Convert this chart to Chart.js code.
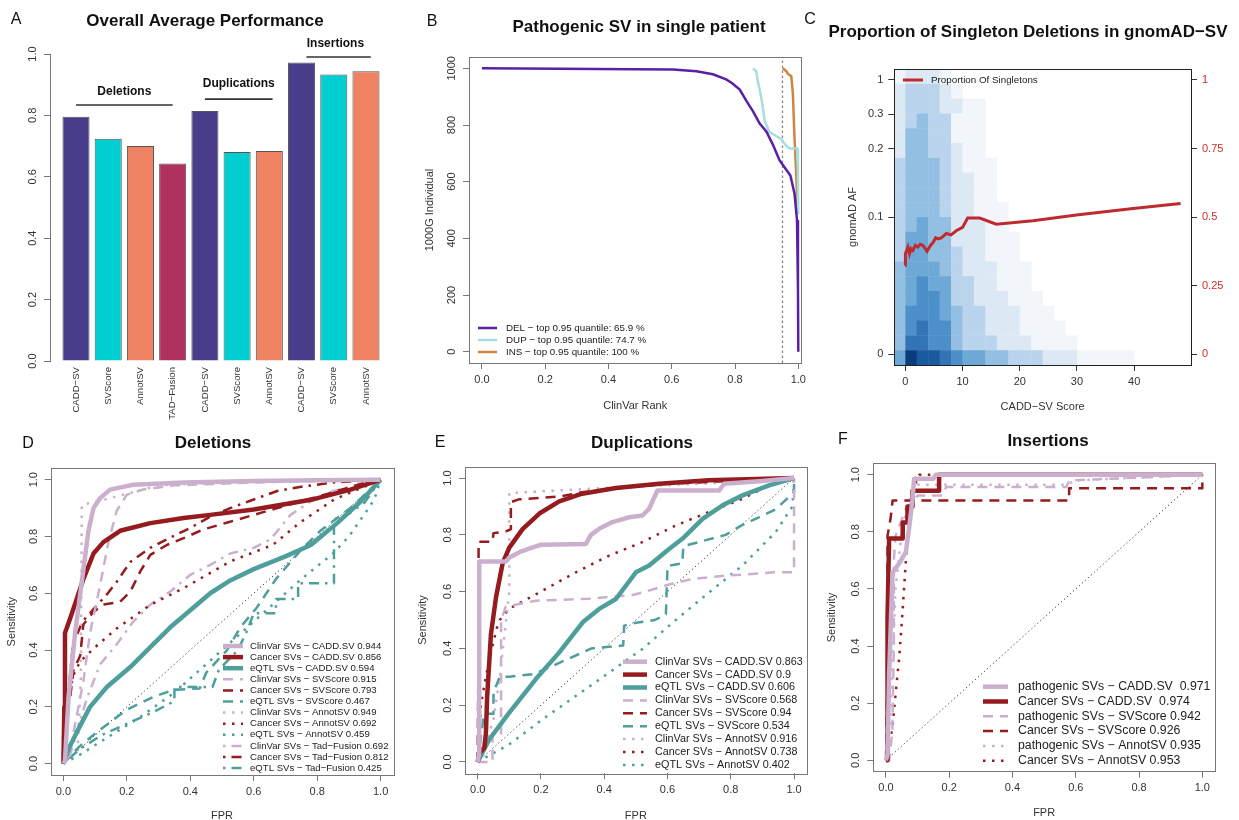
<!DOCTYPE html>
<html>
<head>
<meta charset="utf-8">
<script src="https://cdn.jsdelivr.net/npm/chart.js@4.4.1/dist/chart.umd.min.js"></script>
<style>
  html, body { margin: 0; padding: 0; background: #fff; width: 1239px; height: 820px; overflow: hidden; }
  canvas { position: absolute; }
</style>
</head>
<body>
<canvas id="perf" width="410" height="420" style="left:0;top:0"></canvas>
<canvas id="patient" width="395" height="420" style="left:415px;top:0"></canvas>
<canvas id="singleton" width="444" height="420" style="left:795px;top:0"></canvas>
<canvas id="rocDel" width="410" height="410" style="left:0;top:420px"></canvas>
<canvas id="rocDup" width="410" height="410" style="left:410px;top:420px"></canvas>
<canvas id="rocIns" width="419" height="410" style="left:820px;top:420px"></canvas>
<script>
// ---- A: overall average performance ----
const perfTools = ['CADD−SV', 'SVScore', 'AnnotSV', 'TAD−Fusion', 'CADD−SV', 'SVScore', 'AnnotSV', 'CADD−SV', 'SVScore', 'AnnotSV'];
const perfSlots = [1, 2, 3, 4, 5, 6, 7, 8, 9, 10];
const perfValues = [0.796, 0.724, 0.700, 0.643, 0.814, 0.681, 0.684, 0.972, 0.933, 0.944];
const perfColors = ['#483D8B', '#00CED1', '#EE8262', '#B03060', '#483D8B', '#00CED1', '#EE8262', '#483D8B', '#00CED1', '#EE8262'];
const svGroups = ['Deletions', 'Duplications', 'Insertions'];

// ---- B: rank of pathogenic SVs within a single 1000G individual ----
const delRank = [[0, 1000], [0.604, 996], [0.678, 990], [0.73, 979], [0.772, 961], [0.79, 948], [0.815, 925], [0.836, 885], [0.857, 848], [0.878, 805], [0.899, 777], [0.92, 730], [0.941, 675], [0.957, 650], [0.975, 622], [0.988, 558], [0.996, 465], [0.999, 227], [1, 0]];
const dupRank = [[0.857, 1000], [0.867, 990], [0.872, 955], [0.883, 897], [0.894, 814], [0.909, 775], [0.93, 761], [0.946, 750], [0.962, 726], [0.973, 717], [0.996, 717], [0.999, 638], [1, 485]];
const insRank = [[0.951, 1000], [0.962, 990], [0.967, 981], [0.978, 972], [0.983, 908], [0.988, 756], [0.994, 615], [0.997, 520]];
const rankLabels = ['DEL − top 0.95 quantile: 65.9 %', 'DUP − top 0.95 quantile: 74.7 %', 'INS − top 0.95 quantile: 100 %'];
const rankCutoff = 0.95;

// ---- C: singleton proportion over CADD-SV score ----
const singletonCurve = [[0, 0.323], [0.02, 0.366], [0.45, 0.39], [0.73, 0.366], [1.0, 0.384], [1.3, 0.378], [1.75, 0.396], [2.2, 0.39], [2.6, 0.4], [3.1, 0.396], [3.8, 0.375], [4.4, 0.396], [4.9, 0.408], [5.3, 0.424], [5.7, 0.42], [6.3, 0.424], [7.2, 0.44], [8.0, 0.435], [8.9, 0.45], [10.0, 0.462], [10.9, 0.496], [13.0, 0.496], [15.9, 0.474], [22.3, 0.486], [29.9, 0.507], [39.8, 0.531], [48.1, 0.549]];
const afTickPos = [0, 0.5, 0.75, 0.875, 1];
const afTickText = ['0', '0.1', '0.2', '0.3', '1'];
// density bins: x edges (score), y edges (top to bottom), levels 0-9 per cell (missing = 0)
const heatX = [-2, 0, 2, 4, 6, 8, 10, 12, 14, 16, 18, 20, 22, 24, 26, 28, 30, 32, 34, 36, 38, 40, 42, 44, 46, 48, 50];
const heatY = [1.04, 0.986, 0.932, 0.878, 0.824, 0.77, 0.716, 0.662, 0.608, 0.554, 0.5, 0.446, 0.392, 0.338, 0.284, 0.23, 0.176, 0.122, 0.068, 0.014, -0.04];
const heatRows = [
  '12221',
  '233321',
  '23332211',
  '23433111',
  '24433111',
  '24433211',
  '344432111',
  '344432211',
  '344432211',
  '3444322111',
  '3454422211',
  '35544222111',
  '35544322111',
  '455543222111',
  '456553322111',
  '4566533222111',
  '46665433222111',
  '467664332221111',
  '4776643332221111',
  '598876554433322211111'
];
const blues = ['#FFFFFF', '#F2F6FB', '#DCE9F5', '#B9D4EC', '#93BFE2', '#6EA8D6', '#4D8FC8', '#3274B6', '#1A5A9E', '#0B3C7D'];

// ---- D: deletions ROC ----
const delClinvarCadd = [[0, 0], [0.005, 0.01], [0.016, 0.23], [0.037, 0.46], [0.058, 0.64], [0.079, 0.82], [0.095, 0.9], [0.116, 0.935], [0.147, 0.965], [0.22, 0.982], [0.38, 0.99], [0.6, 0.995], [0.8, 0.998], [1, 1]];
const delCancerCadd = [[0, 0], [0.003, 0.2], [0.005, 0.46], [0.021, 0.51], [0.042, 0.58], [0.063, 0.65], [0.095, 0.74], [0.126, 0.78], [0.179, 0.82], [0.274, 0.847], [0.379, 0.865], [0.463, 0.876], [0.6, 0.895], [0.78, 0.929], [0.905, 0.965], [1, 1]];
const delEqtlCadd = [[0, 0], [0.02, 0.06], [0.042, 0.11], [0.084, 0.2], [0.137, 0.27], [0.211, 0.34], [0.274, 0.41], [0.337, 0.48], [0.4, 0.54], [0.463, 0.6], [0.526, 0.645], [0.6, 0.685], [0.7, 0.73], [0.78, 0.77], [0.863, 0.847], [0.937, 0.923], [1, 1]];
const delClinvarSvscore = [[0, 0], [0.02, 0.03], [0.032, 0.11], [0.063, 0.29], [0.084, 0.46], [0.116, 0.63], [0.142, 0.78], [0.168, 0.89], [0.2, 0.947], [0.25, 0.965], [0.35, 0.98], [0.6, 0.99], [1, 1]];
const delCancerSvscore = [[0, 0], [0.005, 0.05], [0.015, 0.2], [0.021, 0.23], [0.032, 0.33], [0.053, 0.38], [0.063, 0.49], [0.095, 0.535], [0.126, 0.56], [0.179, 0.57], [0.211, 0.606], [0.242, 0.676], [0.274, 0.735], [0.326, 0.77], [0.379, 0.794], [0.442, 0.825], [0.52, 0.85], [0.674, 0.9], [0.832, 0.95], [0.937, 0.985], [1, 1]];
const delEqtlSvscore = [[0, 0], [0.05, 0.06], [0.116, 0.12], [0.2, 0.19], [0.284, 0.235], [0.347, 0.26], [0.43, 0.265], [0.45, 0.32], [0.516, 0.4], [0.558, 0.48], [0.61, 0.55], [0.67, 0.65], [0.747, 0.75], [0.81, 0.82], [0.905, 0.9], [1, 1]];
const delClinvarAnnot = [[0, 0], [0.01, 0.02], [0.045, 0.05], [0.055, 0.3], [0.058, 0.91], [0.09, 0.92], [0.13, 0.93], [0.2, 0.95], [0.3, 0.98], [0.5, 0.99], [1, 1]];
const delCancerAnnot = [[0, 0], [0.005, 0.1], [0.01, 0.2], [0.02, 0.26], [0.035, 0.32], [0.053, 0.36], [0.1, 0.41], [0.168, 0.476], [0.274, 0.559], [0.379, 0.618], [0.526, 0.712], [0.66, 0.77], [0.747, 0.85], [0.853, 0.93], [1, 1]];
const delEqtlAnnot = [[0, 0], [0.05, 0.03], [0.15, 0.1], [0.25, 0.17], [0.35, 0.25], [0.45, 0.35], [0.55, 0.45], [0.65, 0.55], [0.75, 0.65], [0.85, 0.74], [0.9, 0.8], [0.95, 0.88], [0.98, 0.93], [1, 1]];
const delClinvarTad = [[0, 0], [0.021, 0.03], [0.042, 0.11], [0.074, 0.23], [0.116, 0.35], [0.168, 0.42], [0.22, 0.5], [0.274, 0.56], [0.337, 0.606], [0.4, 0.665], [0.463, 0.7], [0.526, 0.74], [0.6, 0.76], [0.653, 0.79], [0.716, 0.876], [0.779, 0.923], [0.85, 0.96], [1, 1]];
const delCancerTad = [[0, 0], [0.01, 0.1], [0.02, 0.3], [0.03, 0.42], [0.06, 0.5], [0.1, 0.55], [0.14, 0.6], [0.168, 0.64], [0.211, 0.71], [0.274, 0.76], [0.326, 0.79], [0.4, 0.83], [0.463, 0.87], [0.526, 0.9], [0.6, 0.93], [0.674, 0.96], [0.75, 0.975], [0.85, 0.99], [1, 1]];
const delEqtlTad = [[0, 0], [0.05, 0.05], [0.12, 0.1], [0.2, 0.14], [0.28, 0.18], [0.35, 0.22], [0.35, 0.27], [0.47, 0.27], [0.49, 0.33], [0.55, 0.4], [0.58, 0.47], [0.6, 0.53], [0.67, 0.53], [0.67, 0.58], [0.74, 0.58], [0.74, 0.635], [0.853, 0.635], [0.853, 0.86], [0.9, 0.88], [0.95, 0.92], [1, 1]];
const delLabels = ['ClinVar SVs − CADD.SV 0.944', 'Cancer SVs − CADD.SV 0.856', 'eQTL SVs − CADD.SV 0.594', 'ClinVar SVs − SVScore 0.915', 'Cancer SVs − SVScore 0.793', 'eQTL SVs − SVScore 0.467', 'ClinVar SVs − AnnotSV 0.949', 'Cancer SVs − AnnotSV 0.692', 'eQTL SVs − AnnotSV 0.459', 'ClinVar SVs − Tad−Fusion 0.692', 'Cancer SVs − Tad−Fusion 0.812', 'eQTL SVs − Tad−Fusion 0.425'];

// ---- E: duplications ROC ----
const dupClinvarCadd = [[0, 0], [0.005, 0.03], [0.005, 0.706], [0.089, 0.706], [0.1, 0.72], [0.132, 0.739], [0.174, 0.756], [0.2, 0.765], [0.342, 0.768], [0.358, 0.8], [0.384, 0.821], [0.426, 0.845], [0.479, 0.862], [0.521, 0.868], [0.542, 0.892], [0.568, 0.956], [0.763, 0.956], [0.779, 0.98], [0.9, 0.99], [1, 1]];
const dupCancerCadd = [[0, 0], [0.005, 0.03], [0.021, 0.05], [0.026, 0.1], [0.03, 0.23], [0.042, 0.45], [0.058, 0.58], [0.079, 0.7], [0.1, 0.755], [0.142, 0.82], [0.195, 0.875], [0.258, 0.918], [0.33, 0.945], [0.437, 0.965], [0.574, 0.98], [0.73, 0.992], [1, 1]];
const dupEqtlCadd = [[0, 0], [0.037, 0.08], [0.1, 0.174], [0.184, 0.292], [0.258, 0.386], [0.332, 0.492], [0.384, 0.539], [0.437, 0.574], [0.5, 0.668], [0.542, 0.692], [0.605, 0.75], [0.647, 0.786], [0.711, 0.856], [0.774, 0.904], [0.837, 0.939], [0.921, 0.974], [1, 1]];
const dupClinvarSvscore = [[0, 0], [0.047, 0], [0.047, 0.1], [0.074, 0.1], [0.074, 0.5], [0.089, 0.547], [0.142, 0.559], [0.184, 0.568], [0.35, 0.575], [0.49, 0.588], [0.53, 0.6], [0.605, 0.625], [0.68, 0.645], [0.784, 0.656], [0.942, 0.668], [1, 0.668], [1, 1]];
const dupCancerSvscore = [[0, 0], [0.002, 0.3], [0.003, 0.776], [0.047, 0.776], [0.05, 0.806], [0.089, 0.812], [0.105, 0.82], [0.105, 0.915], [0.13, 0.925], [0.2, 0.93], [0.26, 0.935], [0.33, 0.95], [0.42, 0.962], [0.6, 0.98], [0.8, 0.99], [1, 1]];
const dupEqtlSvscore = [[0, 0], [0.02, 0.17], [0.05, 0.17], [0.05, 0.245], [0.07, 0.3], [0.1, 0.3], [0.18, 0.31], [0.28, 0.36], [0.36, 0.4], [0.46, 0.41], [0.463, 0.48], [0.5, 0.49], [0.56, 0.5], [0.595, 0.52], [0.6, 0.69], [0.647, 0.7], [0.65, 0.76], [0.784, 0.8], [0.837, 0.835], [0.942, 0.89], [1, 0.95], [1, 1]];
const dupClinvarAnnot = [[0, 0], [0.02, 0.05], [0.05, 0.15], [0.07, 0.3], [0.085, 0.45], [0.1, 0.6], [0.1, 0.947], [0.4, 0.965], [0.6, 0.975], [0.9, 0.99], [1, 1]];
const dupCancerAnnot = [[0, 0], [0.005, 0.09], [0.01, 0.2], [0.026, 0.3], [0.045, 0.4], [0.06, 0.47], [0.07, 0.5], [0.1, 0.54], [0.2, 0.6], [0.31, 0.668], [0.416, 0.727], [0.52, 0.774], [0.626, 0.833], [0.73, 0.88], [0.837, 0.927], [0.92, 0.974], [1, 1]];
const dupEqtlAnnot = [[0, 0], [0.1, 0.062], [0.205, 0.15], [0.311, 0.233], [0.416, 0.315], [0.521, 0.398], [0.626, 0.5], [0.732, 0.598], [0.837, 0.692], [0.942, 0.81], [0.995, 0.9], [1, 1]];
const dupLabels = ['ClinVar SVs − CADD.SV 0.863', 'Cancer SVs − CADD.SV 0.9', 'eQTL SVs − CADD.SV 0.606', 'ClinVar SVs − SVScore 0.568', 'Cancer SVs − SVScore 0.94', 'eQTL SVs − SVScore 0.534', 'ClinVar SVs − AnnotSV 0.916', 'Cancer SVs − AnnotSV 0.738', 'eQTL SVs − AnnotSV 0.402'];

// ---- F: insertions ROC ----
const insPathoCadd = [[0, 0], [0.005, 0.02], [0.01, 0.3], [0.016, 0.5], [0.021, 0.657], [0.042, 0.69], [0.063, 0.73], [0.074, 0.82], [0.084, 0.915], [0.089, 0.986], [0.15, 0.986], [0.158, 1], [1, 1]];
const insCancerCadd = [[0, 0], [0.005, 0], [0.005, 0.5], [0.01, 0.777], [0.053, 0.777], [0.053, 0.833], [0.068, 0.833], [0.068, 0.889], [0.084, 0.889], [0.084, 0.944], [0.168, 0.944], [0.168, 1], [1, 1]];
const insPathoSvscore = [[0, 0], [0.01, 0], [0.02, 0.1], [0.025, 0.4], [0.025, 0.7], [0.03, 0.786], [0.063, 0.88], [0.1, 0.927], [0.179, 0.927], [0.19, 0.957], [0.57, 0.957], [0.58, 0.98], [0.8, 0.99], [1, 1]];
const insCancerSvscore = [[0, 0], [0.005, 0.3], [0.005, 0.786], [0.015, 0.85], [0.021, 0.91], [0.579, 0.91], [0.579, 0.953], [1, 0.953], [1, 1]];
const insPathoAnnot = [[0, 0], [0.01, 0.05], [0.02, 0.3], [0.03, 0.6], [0.05, 0.8], [0.07, 0.9], [0.1, 0.965], [0.57, 0.965], [0.6, 0.98], [0.8, 0.99], [1, 1]];
const insCancerAnnot = [[0, 0], [0.01, 0.05], [0.021, 0.12], [0.032, 0.25], [0.042, 0.36], [0.053, 0.53], [0.063, 0.7], [0.074, 0.845], [0.084, 0.94], [0.1, 0.99], [0.105, 1], [1, 1]];
const insLabels = ['pathogenic SVs − CADD.SV  0.971', 'Cancer SVs − CADD.SV  0.974', 'pathogenic SVs − SVScore 0.942', 'Cancer SVs − SVScore 0.926', 'pathogenic SVs − AnnotSV 0.935', 'Cancer SVs − AnnotSV 0.953'];

const rocTicks = [0, 0.2, 0.4, 0.6, 0.8, 1];
const chanceLine = [[0, 0], [1, 1]];

// ---------------------------------------------------------------
const FONT = '"Liberation Sans", Arial, Helvetica, sans-serif';
Chart.defaults.font.family = FONT;
Chart.defaults.font.size = 11;
Chart.defaults.color = '#333';
Chart.defaults.animation = false;
Chart.defaults.responsive = false;
Chart.defaults.plugins.legend.display = false;
Chart.defaults.plugins.tooltip.enabled = false;
Chart.defaults.elements.point.radius = 0;
Chart.defaults.elements.line.tension = 0;

const pts = a => a.map(p => ({x: p[0], y: p[1]}));
const tickAt = vals => s => { s.ticks = vals.map(v => ({value: v})); };

function bottomAxis(min, max, vals, fmt, title, height, titlePad, gridColor) {
  return {
    type: 'linear', min, max,
    afterBuildTicks: tickAt(vals),
    afterFit: s => { s.height = height; },
    border: {display: false},
    grid: {drawOnChartArea: false, tickLength: 6, color: gridColor || '#777'},
    ticks: {callback: fmt, padding: 4, maxRotation: 0, autoSkip: false, color: '#333'},
    title: {display: true, text: title, color: '#333', padding: {top: 0, bottom: titlePad}}
  };
}

// y labels are drawn upright by the rotY plugin, so only tick marks come from here
function leftAxis(min, max, vals, title, width, titlePad) {
  return {
    type: 'linear', min, max,
    afterBuildTicks: tickAt(vals),
    afterFit: s => { s.width = width; },
    border: {display: false},
    grid: {drawOnChartArea: false, tickLength: 6, color: '#777'},
    ticks: {display: false},
    title: {display: !!title, text: title, color: '#333', padding: {top: titlePad, bottom: 0}}
  };
}

const frame = {
  id: 'frame',
  afterDraw(chart, args, o) {
    if (!o.color) return;
    const a = chart.chartArea, ctx = chart.ctx;
    ctx.save();
    ctx.strokeStyle = o.color;
    ctx.lineWidth = 1;
    ctx.strokeRect(Math.round(a.left) + 0.5, Math.round(a.top) + 0.5, Math.round(a.right - a.left), Math.round(a.bottom - a.top));
    ctx.restore();
  }
};

const rotY = {
  id: 'rotY',
  afterDraw(chart, args, o) {
    if (!o.fmt) return;
    const s = chart.scales.y, ctx = chart.ctx, x = s.right - o.gap;
    ctx.save();
    ctx.font = '11px ' + FONT;
    ctx.fillStyle = '#333';
    ctx.textAlign = 'center';
    ctx.textBaseline = 'middle';
    s.ticks.forEach(t => {
      ctx.save();
      ctx.translate(x, s.getPixelForValue(t.value));
      ctx.rotate(-Math.PI / 2);
      ctx.fillText(o.fmt(t.value), 0, 0);
      ctx.restore();
    });
    ctx.restore();
  }
};

const lineLegend = {
  id: 'lineLegend',
  afterDraw(chart, args, o) {
    if (o.x1 === undefined) return;
    const ctx = chart.ctx;
    ctx.save();
    ctx.font = o.size + 'px ' + FONT;
    ctx.textAlign = 'left';
    ctx.textBaseline = 'middle';
    let row = 0;
    chart.data.datasets.forEach(ds => {
      if (!ds.label) return;
      const y = o.y + row * o.dy;
      ctx.strokeStyle = ds.borderColor;
      ctx.lineWidth = ds.borderWidth;
      ctx.setLineDash(ds.borderDash || []);
      ctx.beginPath();
      ctx.moveTo(o.x1, y);
      ctx.lineTo(o.x2, y);
      ctx.stroke();
      ctx.fillStyle = '#222';
      ctx.fillText(ds.label, o.tx, y);
      row++;
    });
    ctx.restore();
  }
};

const panelText = {
  id: 'panelText',
  afterDraw(chart, args, o) {
    if (!o.letter) return;
    const ctx = chart.ctx;
    ctx.save();
    ctx.fillStyle = '#111';
    ctx.textBaseline = 'middle';
    ctx.textAlign = 'center';
    ctx.font = '16px ' + FONT;
    ctx.fillText(o.letter, o.lx, o.ly);
    ctx.font = 'bold 17px ' + FONT;
    ctx.fillText(o.title, o.tx, o.ty);
    ctx.restore();
  }
};

// bracket lines with the SV class above each group of bars
const groupMarks = {
  id: 'groupMarks',
  afterDraw(chart, args, o) {
    if (!o.spans) return;
    const {x, y} = chart.scales, ctx = chart.ctx;
    ctx.save();
    ctx.strokeStyle = '#333';
    ctx.lineWidth = 1.6;
    ctx.fillStyle = '#111';
    ctx.font = 'bold 12px ' + FONT;
    ctx.textAlign = 'center';
    ctx.textBaseline = 'middle';
    o.spans.forEach((sp, i) => {
      const py = y.getPixelForValue(o.lineY[i]);
      ctx.beginPath();
      ctx.moveTo(x.getPixelForValue(sp[0]), py);
      ctx.lineTo(x.getPixelForValue(sp[1]), py);
      ctx.stroke();
      ctx.fillText(svGroups[i], x.getPixelForValue(o.textX[i]), y.getPixelForValue(o.textY[i]));
    });
    ctx.restore();
  }
};

// 2D density of (score, AF) drawn as shaded cells behind the curve
const heatLayer = {
  id: 'heatLayer',
  beforeDatasetsDraw(chart, args, o) {
    if (!o.on) return;
    const {x, y} = chart.scales, a = chart.chartArea, ctx = chart.ctx;
    ctx.save();
    ctx.beginPath();
    ctx.rect(a.left, a.top, a.right - a.left, a.bottom - a.top);
    ctx.clip();
    heatRows.forEach((row, r) => {
      const yt = y.getPixelForValue(heatY[r]), yb = y.getPixelForValue(heatY[r + 1]);
      for (let c = 0; c < row.length; c++) {
        const lvl = +row[c];
        if (!lvl) continue;
        const xl = x.getPixelForValue(heatX[c]), xr = x.getPixelForValue(heatX[c + 1]);
        ctx.fillStyle = blues[lvl];
        ctx.fillRect(xl, yt, xr - xl + 0.4, yb - yt + 0.4);
      }
    });
    ctx.restore();
  }
};

Chart.register(frame, rotY, lineLegend, panelText, groupMarks, heatLayer);

// ---- A ----
new Chart(document.getElementById('perf'), {
  type: 'bar',
  data: {
    datasets: [{
      data: perfSlots.map((s, i) => ({x: s, y: perfValues[i]})),
      backgroundColor: perfColors,
      borderColor: '#555',
      borderWidth: 1,
      categoryPercentage: 1,
      barPercentage: 0.84
    }]
  },
  options: {
    layout: {padding: {left: 30, top: 54, right: 18, bottom: 0}},
    scales: {
      x: {
        type: 'linear', min: 0.193, max: 10.807, offset: false,
        afterBuildTicks: tickAt(perfSlots),
        afterFit: s => { s.height = 59; },
        border: {display: false},
        grid: {display: false, drawTicks: false},
        ticks: {callback: v => perfTools[v - 1], minRotation: 90, maxRotation: 90, autoSkip: false, padding: 6, color: '#333', font: {size: 9.6}}
      },
      y: {
        type: 'linear', min: 0, max: 1,
        afterBuildTicks: tickAt([0, 0.2, 0.4, 0.6, 0.8, 1]),
        afterFit: s => { s.width = 20; },
        border: {display: true, color: '#777'},
        grid: {drawOnChartArea: false, tickLength: 6, color: '#777'},
        ticks: {display: false}
      }
    },
    plugins: {
      rotY: {gap: 17, fmt: v => v.toFixed(1)},
      panelText: {letter: 'A', lx: 16, ly: 20, title: 'Overall Average Performance', tx: 205, ty: 21},
      groupMarks: {spans: [[1, 4], [5, 7.1], [8.15, 10.15]], lineY: [0.834, 0.853, 0.99], textX: [2.5, 6.05, 9.05], textY: [0.876, 0.902, 1.033]}
    }
  }
});

// ---- B ----
new Chart(document.getElementById('patient'), {
  type: 'line',
  data: {
    datasets: [
      {label: rankLabels[0], data: pts(delRank), borderColor: '#5B1FA6', borderWidth: 2.5},
      {label: rankLabels[1], data: pts(dupRank), borderColor: '#A5DEDF', borderWidth: 2.5},
      {label: rankLabels[2], data: pts(insRank), borderColor: '#CF8540', borderWidth: 2.5},
      {data: [{x: rankCutoff, y: -40}, {x: rankCutoff, y: 1040}], borderColor: '#888', borderWidth: 1.3, borderDash: [2.5, 2.5]}
    ]
  },
  options: {
    layout: {padding: {left: 0, top: 57, right: 8, bottom: 0}},
    scales: {
      x: bottomAxis(-0.041, 1.01, [0, 0.2, 0.4, 0.6, 0.8, 1], v => v.toFixed(1), 'ClinVar Rank', 57, 7.7),
      y: leftAxis(-40, 1040, [0, 200, 400, 600, 800, 1000], '1000G Individual', 54, 8.4)
    },
    plugins: {
      frame: {color: '#777'},
      rotY: {gap: 17, fmt: v => String(v)},
      lineLegend: {x1: 63, x2: 82, tx: 91, y: 328, dy: 12, size: 9.8},
      panelText: {letter: 'B', lx: 17, ly: 22, title: 'Pathogenic SV in single patient', tx: 224, ty: 27}
    }
  }
});

// ---- C ----
new Chart(document.getElementById('singleton'), {
  type: 'line',
  data: {
    datasets: [
      {label: 'Proportion Of Singletons', data: pts(singletonCurve), borderColor: '#BE2A2E', borderWidth: 3, yAxisID: 'y2'}
    ]
  },
  options: {
    layout: {padding: {left: 0, top: 69, right: 0, bottom: 0}},
    scales: {
      x: bottomAxis(-1.92, 49.92, [0, 10, 20, 30, 40], v => String(v), 'CADD−SV Score', 55, 6.7, '#333'),
      y: {
        type: 'linear', position: 'left', min: -0.04, max: 1.04,
        afterBuildTicks: tickAt(afTickPos),
        afterFit: s => { s.width = 99.3; },
        border: {display: false},
        grid: {drawOnChartArea: false, tickLength: 6, color: '#333'},
        ticks: {callback: v => afTickText[afTickPos.indexOf(v)], padding: 5, color: '#333'},
        title: {display: true, text: 'gnomAD AF', color: '#333', padding: {top: 51.4, bottom: 0}}
      },
      y2: {
        type: 'linear', position: 'right', min: -0.04, max: 1.04,
        afterBuildTicks: tickAt([0, 0.25, 0.5, 0.75, 1]),
        afterFit: s => { s.width = 48; },
        border: {display: false},
        grid: {drawOnChartArea: false, tickLength: 6, color: '#333'},
        ticks: {callback: v => String(v), padding: 5, color: '#D22B2B'}
      }
    },
    plugins: {
      heatLayer: {on: true},
      frame: {color: '#222'},
      lineLegend: {x1: 108, x2: 128, tx: 136, y: 80, dy: 12, size: 9.8},
      panelText: {letter: 'C', lx: 15, ly: 20, title: 'Proportion of Singleton Deletions in gnomAD−SV', tx: 233, ty: 32}
    }
  }
});

// ---- D, E, F: ROC curves ----
const cohortColor = {ClinVar: '#CBB0CE', pathogenic: '#CBB0CE', Cancer: '#951B1F', eQTL: '#4E9E9C'};
const toolStyle = {
  CADD: {w: 4.5, dash: []},
  SVScore: {w: 2.5, dash: [10, 7]},
  AnnotSV: {w: 2.5, dash: [2.5, 6.5]},
  Tad: {w: 2.5, dash: [2.5, 6, 10, 6]}
};

function rocChart(id, curves, labels, cohorts, tools, lay, legend, text) {
  const datasets = curves.map((c, i) => ({
    label: labels[i],
    data: pts(c),
    borderColor: cohortColor[cohorts[i]],
    borderWidth: toolStyle[tools[i]].w,
    borderDash: toolStyle[tools[i]].dash,
    borderJoinStyle: 'round'
  }));
  datasets.push({data: pts(chanceLine), borderColor: '#333', borderWidth: 1, borderDash: [1.2, 2.8]});
  return new Chart(document.getElementById(id), {
    type: 'line',
    data: {datasets},
    options: {
      layout: {padding: {left: 0, top: lay.top, right: lay.right, bottom: 0}},
      scales: {
        x: bottomAxis(-0.04, 1.04, rocTicks, v => v.toFixed(1), 'FPR', lay.xh, lay.xtp),
        y: leftAxis(-0.04, 1.04, rocTicks, 'Sensitivity', lay.yw, lay.ytp)
      },
      plugins: {
        frame: {color: '#777'},
        rotY: {gap: 17, fmt: v => v.toFixed(1)},
        lineLegend: legend,
        panelText: text
      }
    }
  });
}

rocChart('rocDel',
  [delClinvarCadd, delCancerCadd, delEqtlCadd, delClinvarSvscore, delCancerSvscore, delEqtlSvscore, delClinvarAnnot, delCancerAnnot, delEqtlAnnot, delClinvarTad, delCancerTad, delEqtlTad],
  delLabels,
  ['ClinVar', 'Cancer', 'eQTL', 'ClinVar', 'Cancer', 'eQTL', 'ClinVar', 'Cancer', 'eQTL', 'ClinVar', 'Cancer', 'eQTL'],
  ['CADD', 'CADD', 'CADD', 'SVScore', 'SVScore', 'SVScore', 'AnnotSV', 'AnnotSV', 'AnnotSV', 'Tad', 'Tad', 'Tad'],
  {top: 48.3, right: 16.7, xh: 55, xtp: 7.4, yw: 50.7, ytp: 5.4},
  {x1: 223, x2: 243, tx: 250, y: 226, dy: 11.1, size: 9.6},
  {letter: 'D', lx: 28, ly: 24, title: 'Deletions', tx: 213, ty: 23});

rocChart('rocDup',
  [dupClinvarCadd, dupCancerCadd, dupEqtlCadd, dupClinvarSvscore, dupCancerSvscore, dupEqtlSvscore, dupClinvarAnnot, dupCancerAnnot, dupEqtlAnnot],
  dupLabels,
  ['ClinVar', 'Cancer', 'eQTL', 'ClinVar', 'Cancer', 'eQTL', 'ClinVar', 'Cancer', 'eQTL'],
  ['CADD', 'CADD', 'CADD', 'SVScore', 'SVScore', 'SVScore', 'AnnotSV', 'AnnotSV', 'AnnotSV'],
  {top: 46.7, right: 13.3, xh: 56.7, xtp: 7.4, yw: 55, ytp: 6.7},
  {x1: 213, x2: 237, tx: 245, y: 241.7, dy: 12.9, size: 10.8},
  {letter: 'E', lx: 30, ly: 23, title: 'Duplications', tx: 232, ty: 23});

rocChart('rocIns',
  [insPathoCadd, insCancerCadd, insPathoSvscore, insCancerSvscore, insPathoAnnot, insCancerAnnot],
  insLabels,
  ['pathogenic', 'Cancer', 'pathogenic', 'Cancer', 'pathogenic', 'Cancer'],
  ['CADD', 'CADD', 'SVScore', 'SVScore', 'AnnotSV', 'AnnotSV'],
  {top: 43.3, right: 24, xh: 58.3, xtp: 10.1, yw: 53.3, ytp: 5.1},
  {x1: 163, x2: 188, tx: 198, y: 266.7, dy: 14.8, size: 12.3},
  {letter: 'F', lx: 23, ly: 20, title: 'Insertions', tx: 228, ty: 21});
</script>
</body>
</html>
